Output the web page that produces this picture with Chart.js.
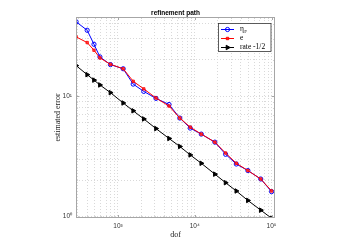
<!DOCTYPE html>
<html>
<head>
<meta charset="utf-8">
<script src="https://cdn.jsdelivr.net/npm/chart.js@4.4.0/dist/chart.umd.min.js"></script>
<style>
  html, body { margin: 0; padding: 0; background: #fff; }
  #wrap { width: 341px; height: 246px; }
</style>
</head>
<body>
<div id="wrap"><canvas id="refinementChart" width="341" height="246"></canvas></div>
<script>
// values
const dofValues = [285, 397, 487, 582, 798, 1169, 1578, 2168, 3126, 4624, 6393, 8730, 12160, 18280, 25210, 34760, 49200, 72400, 100200];
const etaValues = [41.5, 35.3, 27.0, 21.2, 18.3, 16.9, 12.6, 10.96, 9.59, 8.53, 6.58, 5.43, 4.84, 4.15, 3.29, 2.73, 2.41, 2.05, 1.61];
const errorValues = [31.1, 27.9, 24.1, 20.8, 18.4, 16.9, 13.3, 11.5, 9.66, 8.28, 6.58, 5.53, 4.84, 4.15, 3.37, 2.77, 2.41, 2.05, 1.63];
const rateValues = [17.95, 15.1, 13.6, 12.4, 10.7, 8.78, 7.56, 6.47, 5.38, 4.45, 3.82, 3.25, 2.77, 2.25, 1.91, 1.63, 1.36, 1.13, 0.966];

const xTickValues = [300, 400, 500, 600, 700, 800, 900, 1000, 2000, 3000, 4000, 5000, 6000, 7000, 8000, 9000,
  10000, 20000, 30000, 40000, 50000, 60000, 70000, 80000, 90000, 100000];
const yTickValues = [1, 2, 3, 4, 5, 6, 7, 8, 9, 10, 20, 30, 40];
const seriesNames = ['η', 'e', 'rate -1/2'];
const chartTitle = 'refinement path';

const supDigits = '⁰¹²³⁴⁵⁶⁷⁸⁹';
function powerLabel(v) {
  const p = Math.log10(v);
  if (Math.abs(p - Math.round(p)) > 1e-9) return '';
  return '10' + String(Math.round(p)).split('').map(d => supDigits[+d]).join('');
}

function toPoints(ys) {
  return dofValues.map((d, i) => ({ x: d, y: ys[i] }));
}

const frameColor = '#a6a6a6';

// box, inward ticks, title and the legend, drawn like the matlab figure
const framePlugin = {
  id: 'framePlugin',
  afterDraw(chart) {
    const ctx = chart.ctx;
    const a = chart.chartArea;
    const xs = chart.scales.x;
    const ys = chart.scales.y;
    ctx.save();
    ctx.strokeStyle = frameColor;
    ctx.lineWidth = 1;
    ctx.strokeRect(Math.round(a.left) + 0.5, Math.round(a.top) + 0.5,
      Math.round(a.right - a.left) - 1, Math.round(a.bottom - a.top) - 1);

    ctx.beginPath();
    xTickValues.forEach(v => {
      const px = Math.round(xs.getPixelForValue(v)) + 0.5;
      const len = powerLabel(v) ? 3 : 1.5;
      ctx.moveTo(px, a.bottom); ctx.lineTo(px, a.bottom - len);
      ctx.moveTo(px, a.top); ctx.lineTo(px, a.top + len);
    });
    yTickValues.forEach(v => {
      const py = Math.round(ys.getPixelForValue(v)) + 0.5;
      const len = powerLabel(v) ? 3 : 1.5;
      ctx.moveTo(a.left, py); ctx.lineTo(a.left + len, py);
      ctx.moveTo(a.right, py); ctx.lineTo(a.right - len, py);
    });
    ctx.stroke();

    // title, centred over the axes
    ctx.fillStyle = '#000';
    ctx.textAlign = 'center';
    ctx.textBaseline = 'middle';
    ctx.font = 'bold 6.5px "Liberation Sans"';
    ctx.fillText(chartTitle, (a.left + a.right) / 2, 13);

    // legend
    const bx = 218.5, by = 23.5, bw = 52.5, bh = 28;
    ctx.fillStyle = '#fff';
    ctx.fillRect(bx, by, bw, bh);
    ctx.strokeStyle = '#333';
    ctx.lineWidth = 0.8;
    ctx.strokeRect(bx, by, bw, bh);

    const rows = [29.5, 38.5, 47.5];
    chart.data.datasets.forEach((ds, i) => {
      const y = rows[i];
      ctx.strokeStyle = ds.borderColor;
      ctx.lineWidth = 1;
      ctx.beginPath();
      ctx.moveTo(221, y); ctx.lineTo(234, y);
      ctx.stroke();
      ctx.save();
      ctx.strokeStyle = ds.borderColor;
      ctx.fillStyle = ds.backgroundColor;
      Chart.helpers.drawPoint(ctx, {
        pointStyle: ds.pointStyle,
        rotation: ds.pointRotation || 0,
        radius: ds.pointRadius,
        borderWidth: 1
      }, 227.5, y);
      ctx.restore();
      ctx.fillStyle = '#000';
      ctx.textBaseline = 'middle';
      ctx.textAlign = 'left';
      ctx.font = '7.5px "Liberation Serif"';
      ctx.fillText(seriesNames[i], 240, y);
      if (i === 0) {
        const w = ctx.measureText(seriesNames[i]).width;
        ctx.font = '5px "Liberation Serif"';
        ctx.fillText('F', 240 + w + 0.3, y + 2);
      }
    });
    ctx.restore();
  }
};

const etaSet = {
  label: seriesNames[0],
  data: toPoints(etaValues),
  borderColor: '#0000ff',
  backgroundColor: 'rgba(0,0,0,0)',
  pointStyle: 'circle',
  pointRadius: 2.1,
  pointBorderWidth: 1,
  borderWidth: 1,
  order: 1
};
const errorSet = {
  label: seriesNames[1],
  data: toPoints(errorValues),
  borderColor: '#ff0000',
  backgroundColor: 'rgba(255,40,40,0.75)',
  pointStyle: 'rect',
  pointRadius: 1.7,
  pointBorderWidth: 0.8,
  borderWidth: 1,
  order: 0
};
const rateSet = {
  label: seriesNames[2],
  data: toPoints(rateValues),
  borderColor: '#000000',
  backgroundColor: '#000000',
  pointStyle: 'triangle',
  pointRotation: 90,
  pointRadius: 2.6,
  pointBorderWidth: 1,
  borderWidth: 1,
  order: 2
};

const gridStyle = {
  color: '#d9d9d9',
  lineWidth: 1,
  drawTicks: false
};

new Chart(document.getElementById('refinementChart'), {
  type: 'line',
  data: { datasets: [etaSet, errorSet, rateSet] },
  options: {
    responsive: false,
    animation: false,
    devicePixelRatio: 1,
    layout: { padding: { left: 0, right: 66, top: 17, bottom: 0 } },
    plugins: {
      legend: { display: false },
      tooltip: { enabled: false },
      title: { display: false }
    },
    scales: {
      x: {
        type: 'logarithmic',
        min: 284,
        max: 111000,
        afterBuildTicks: scale => { scale.ticks = xTickValues.map(v => ({ value: v })); },
        afterFit: scale => { scale.height = 28; },
        grid: gridStyle,
        border: { display: false, dash: [1, 2] },
        ticks: {
          autoSkip: false,
          maxRotation: 0,
          padding: 4,
          color: '#333',
          font: { family: '"Liberation Sans"', size: 6.5 },
          callback: v => powerLabel(v)
        },
        title: {
          display: true,
          text: 'dof',
          color: '#222',
          font: { family: '"Liberation Serif"', size: 8 },
          padding: { top: 0, bottom: 6.7 }
        }
      },
      y: {
        type: 'logarithmic',
        min: 0.972,
        max: 45.5,
        afterBuildTicks: scale => { scale.ticks = yTickValues.map(v => ({ value: v })); },
        afterFit: scale => { scale.width = 76; },
        grid: gridStyle,
        border: { display: false, dash: [1, 2] },
        ticks: {
          autoSkip: false,
          padding: 4,
          color: '#333',
          font: { family: '"Liberation Sans"', size: 6.5 },
          callback: v => powerLabel(v)
        },
        title: {
          display: true,
          text: 'estimated error',
          color: '#222',
          font: { family: '"Liberation Serif"', size: 8 },
          padding: { top: 53, bottom: 0 }
        }
      }
    }
  },
  plugins: [framePlugin]
});
</script>
</body>
</html>
